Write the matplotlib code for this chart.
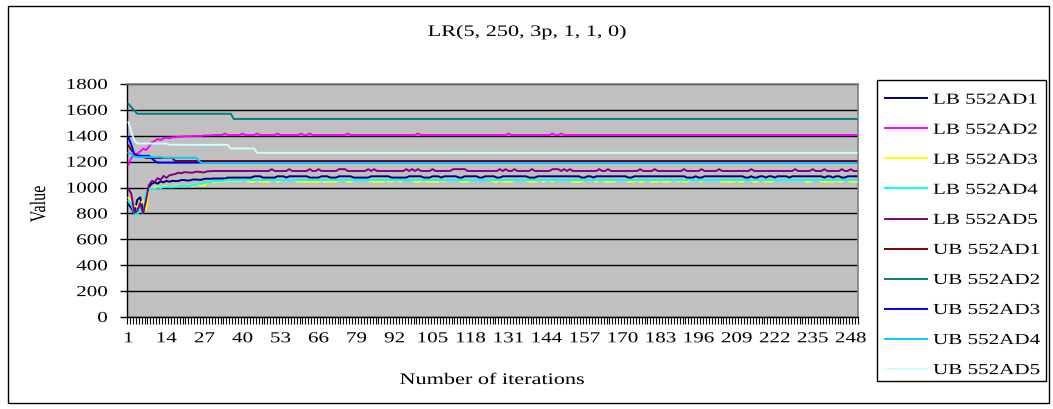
import numpy as np
import matplotlib
matplotlib.use("Agg")
import matplotlib.pyplot as plt
from matplotlib.patheffects import AbstractPathEffect
from matplotlib.transforms import Affine2D
from matplotlib.patches import Rectangle
from matplotlib.lines import Line2D
from matplotlib.ticker import FixedLocator

plt.rcParams["font.family"] = ["Liberation Serif", "DejaVu Serif"]

# ---------------------------------------------------------------- data
N_ITER = 250
TITLE = "LR(5, 250, 3p, 1, 1, 0)"
X_LABEL = "Number of iterations"
Y_LABEL = "Value"
X_TICK_LABELS = list(range(1, N_ITER + 1, 13))
Y_TICKS = list(range(0, 1801, 200))

SERIES_NAMES = ["LB 552AD1", "LB 552AD2", "LB 552AD3", "LB 552AD4", "LB 552AD5",
                "UB 552AD1", "UB 552AD2", "UB 552AD3", "UB 552AD4", "UB 552AD5"]
SERIES_COLORS = ["#000080", "#FF00FF", "#FFFF00", "#00FFFF", "#800080",
                 "#800000", "#008080", "#0000FF", "#00CCFF", "#CCFFFF"]

# Each series is stored as (first iteration, value) steps; a value holds
# until the next step begins.
LB1_STEPS = [(1, 870), (2, 840), (3, 800), (4, 905), (5, 925), (6, 820), (7, 880),
             (8, 1005), (9, 1030), (10, 1040), (11, 1030), (12, 1048), (13, 1040),
             (14, 1052), (15, 1045), (16, 1052), (17, 1050), (19, 1058), (21, 1055),
             (23, 1062), (25, 1060), (27, 1068), (30, 1070), (35, 1077),
             (44, 1087), (47, 1077), (52, 1087), (55, 1077), (56, 1087), (63, 1077),
             (67, 1087), (70, 1077), (73, 1087), (78, 1077), (84, 1087), (91, 1077),
             (97, 1087), (102, 1077), (105, 1087), (108, 1077), (109, 1087),
             (114, 1077), (116, 1087), (121, 1077), (123, 1087), (127, 1077),
             (129, 1087), (138, 1077), (141, 1087), (156, 1077), (158, 1087),
             (160, 1077), (161, 1087), (172, 1077), (174, 1087), (192, 1077),
             (195, 1087), (196, 1077), (198, 1087), (212, 1077), (214, 1087),
             (215, 1077), (217, 1087), (219, 1077), (220, 1087), (222, 1077),
             (223, 1087), (227, 1077), (228, 1087), (239, 1077), (240, 1087),
             (242, 1077), (243, 1087), (245, 1077), (247, 1087)]

LB2_STEPS = [(1, 1175), (2, 1230), (3, 1250), (4, 1262), (5, 1278), (6, 1300),
             (7, 1290), (8, 1315), (9, 1350), (10, 1360), (11, 1375), (12, 1368),
             (13, 1380), (14, 1386), (15, 1380), (16, 1388), (18, 1392), (20, 1396),
             (23, 1399), (27, 1403), (30, 1406)]
LB2_PEAK_ITERS = [34, 40, 45, 52, 60, 63, 76, 100, 131, 146, 149]
LB2_PEAK = 1418

LB3_STEPS = [(1, 920), (2, 885), (3, 860), (4, 850), (5, 875), (6, 900), (7, 830),
             (8, 990), (9, 998), (10, 1002), (11, 1008), (12, 1000), (13, 1012),
             (15, 1005), (17, 1015), (19, 1010), (21, 1020), (23, 1012), (24, 1022),
             (26, 1015), (28, 1040), (31, 1045), (34, 1050), (40, 1058)]
LB3_LOW_RANGES = [(42, 44), (46, 49), (52, 52), (59, 64), (65, 66), (68, 72),
                  (76, 77), (84, 88), (90, 91), (94, 94), (99, 101), (103, 107),
                  (109, 109), (115, 117), (126, 127), (129, 132), (138, 140),
                  (143, 143), (146, 146), (153, 156), (161, 161), (164, 167),
                  (172, 174), (176, 177), (180, 182), (184, 186), (189, 189),
                  (191, 192), (197, 197), (204, 208), (210, 211), (215, 216),
                  (219, 221), (233, 234), (238, 242), (244, 245), (248, 250)]
LB3_LOW = 1045

LB4_STEPS = [(1, 900), (2, 870), (3, 800), (4, 790), (5, 850), (6, 795), (7, 960),
             (8, 985), (9, 995), (10, 990), (11, 1000), (12, 995), (13, 1005),
             (15, 1002), (17, 1008), (19, 1012), (21, 1015), (23, 1020), (25, 1030),
             (27, 1040), (30, 1050), (34, 1056), (40, 1058)]

LB5_STEPS = [(1, 990), (2, 950), (3, 805), (4, 820), (5, 880), (6, 800), (7, 900),
             (8, 1020), (9, 1050), (10, 1045), (11, 1072), (12, 1060), (13, 1090),
             (14, 1075), (15, 1095), (16, 1100), (17, 1105), (18, 1115), (19, 1110),
             (20, 1118), (22, 1115), (24, 1122), (26, 1118), (28, 1126), (30, 1128)]
LB5_PEAK_ITERS = [50, 56, 63, 66, 73, 74, 75, 83, 85, 96, 98, 100, 105, 112, 113,
                  114, 115, 116, 128, 130, 133, 139, 146, 147, 148, 150, 152, 162,
                  165, 176, 181, 191, 197, 203, 214, 229, 235, 239, 245, 248]
LB5_PEAK = 1142

UB1_STEPS = [(1, 1325), (2, 1290), (3, 1260), (4, 1250), (5, 1245), (6, 1240),
             (7, 1228), (17, 1205)]
UB2_STEPS = [(1, 1646), (2, 1620), (3, 1595), (4, 1570), (37, 1530)]
UB3_STEPS = [(1, 1385), (2, 1330), (3, 1255), (4, 1245), (9, 1225), (10, 1205),
             (11, 1193)]
UB4_STEPS = [(1, 1270), (2, 1255), (3, 1240), (4, 1235), (13, 1230), (25, 1210),
             (26, 1190)]
UB5_STEPS = [(1, 1505), (2, 1430), (3, 1365), (4, 1340), (15, 1330), (36, 1302),
             (45, 1268)]


def expand(steps, n=N_ITER):
    out = np.empty(n)
    for i, (start, val) in enumerate(steps):
        end = steps[i + 1][0] - 1 if i + 1 < len(steps) else n
        out[start - 1:end] = val
    return out


def set_points(arr, iters, val):
    arr = arr.copy()
    arr[np.asarray(iters) - 1] = val
    return arr


def set_ranges(arr, ranges, val):
    arr = arr.copy()
    for a, b in ranges:
        arr[a - 1:b] = val
    return arr


iterations = np.arange(1, N_ITER + 1)
series = [
    expand(LB1_STEPS),
    set_points(expand(LB2_STEPS), LB2_PEAK_ITERS, LB2_PEAK),
    set_ranges(expand(LB3_STEPS), LB3_LOW_RANGES, LB3_LOW),
    expand(LB4_STEPS),
    set_points(expand(LB5_STEPS), LB5_PEAK_ITERS, LB5_PEAK),
    expand(UB1_STEPS),
    expand(UB2_STEPS),
    expand(UB3_STEPS),
    expand(UB4_STEPS),
    expand(UB5_STEPS),
]


# ---------------------------------------------------------------- wide type
class Widen(AbstractPathEffect):
    """Draw glyphs widened along one path axis around a chosen anchor."""

    def __init__(self, factor=1.38, anchor="center", axis="x"):
        super().__init__()
        self.factor = factor
        self.anchor = anchor
        self.axis = axis

    def draw_path(self, renderer, gc, tpath, affine, rgbFace=None):
        ext = tpath.get_extents()
        if self.axis == "x":
            lo, hi = ext.x0, ext.x1
        else:
            lo, hi = ext.y0, ext.y1
        ref = {"left": lo, "right": hi}.get(self.anchor, 0.5 * (lo + hi))
        if self.axis == "x":
            st = Affine2D().translate(-ref, 0).scale(self.factor, 1).translate(ref, 0)
        else:
            st = Affine2D().translate(0, -ref).scale(1, self.factor).translate(0, ref)
        renderer.draw_path(gc, tpath, st + affine, rgbFace)


# ---------------------------------------------------------------- figure
W, H = 1053, 410
FS = 11
FS_TITLE = 11.6
fig = plt.figure(figsize=(W / 100, H / 100), dpi=100, facecolor="white")


def fx(px):
    return px / W


def fy(py):
    return 1 - py / H


# outer chart border
fig.patches.append(Rectangle((fx(8), fy(404)), fx(1049) - fx(8), fy(7) - fy(404),
                             transform=fig.transFigure, fill=False,
                             edgecolor="black", linewidth=1.0))

ax = fig.add_axes([fx(127), fy(318), fx(858) - fx(127), fy(85) - fy(318)])
ax.set_facecolor("#C0C0C0")

for i, (vals, name, col) in enumerate(zip(series, SERIES_NAMES, SERIES_COLORS)):
    ax.plot(iterations, vals, color=col, linewidth=1.4, label=name,
            zorder=3 + i * 0.1, solid_joinstyle="round")

ax.set_xlim(0.5, N_ITER + 0.5)
ax.set_ylim(0, 1800)
ax.set_yticks(Y_TICKS)
ax.yaxis.grid(True, color="black", linewidth=1.0)
ax.set_axisbelow(True)

ax.set_xticks(X_TICK_LABELS)
ax.set_xticklabels([str(v) for v in X_TICK_LABELS])
ax.xaxis.set_minor_locator(FixedLocator(np.arange(0.5, N_ITER + 1, 1.0)))
ax.tick_params(axis="x", which="major", length=0, pad=11, labelsize=FS)
ax.tick_params(axis="x", which="minor", length=5, width=0.8, color="black")
ax.tick_params(axis="y", which="major", length=5, width=1.0, pad=9, labelsize=FS)

for s in ("top", "right"):
    ax.spines[s].set_color("#808080")
    ax.spines[s].set_linewidth(1.2)
for s in ("left", "bottom"):
    ax.spines[s].set_color("black")
    ax.spines[s].set_linewidth(1.0)

for lbl in ax.get_xticklabels():
    lbl.set_path_effects([Widen(anchor="center")])
for lbl in ax.get_yticklabels():
    lbl.set_path_effects([Widen(anchor="right")])

fig.text(fx(527), fy(33), TITLE, ha="center", va="center", fontsize=FS_TITLE,
         path_effects=[Widen(anchor="center")])
fig.text(fx(492), fy(381), X_LABEL, ha="center", va="center", fontsize=FS_TITLE,
         path_effects=[Widen(anchor="center")])
fig.text(fx(39), fy(205), Y_LABEL, ha="center", va="center", fontsize=FS_TITLE,
         rotation=90, path_effects=[Widen(anchor="center", axis="y")])

# legend box and entries
fig.patches.append(Rectangle((fx(877), fy(382)), fx(1046) - fx(877), fy(81) - fy(382),
                             transform=fig.transFigure, fill=True, facecolor="white",
                             edgecolor="black", linewidth=1.0, zorder=1))
handles = [Line2D([], [], color=c, linewidth=1.4) for c in SERIES_COLORS]
leg = fig.legend(handles, SERIES_NAMES, loc="upper left",
                 bbox_to_anchor=(fx(885), fy(94)), bbox_transform=fig.transFigure,
                 frameon=False, borderpad=0, borderaxespad=0, fontsize=FS,
                 handlelength=2.75, handletextpad=0.4, labelspacing=1.07)
for t in leg.get_texts():
    t.set_path_effects([Widen(anchor="left")])

fig.savefig("out.png", dpi=100, facecolor="white")
